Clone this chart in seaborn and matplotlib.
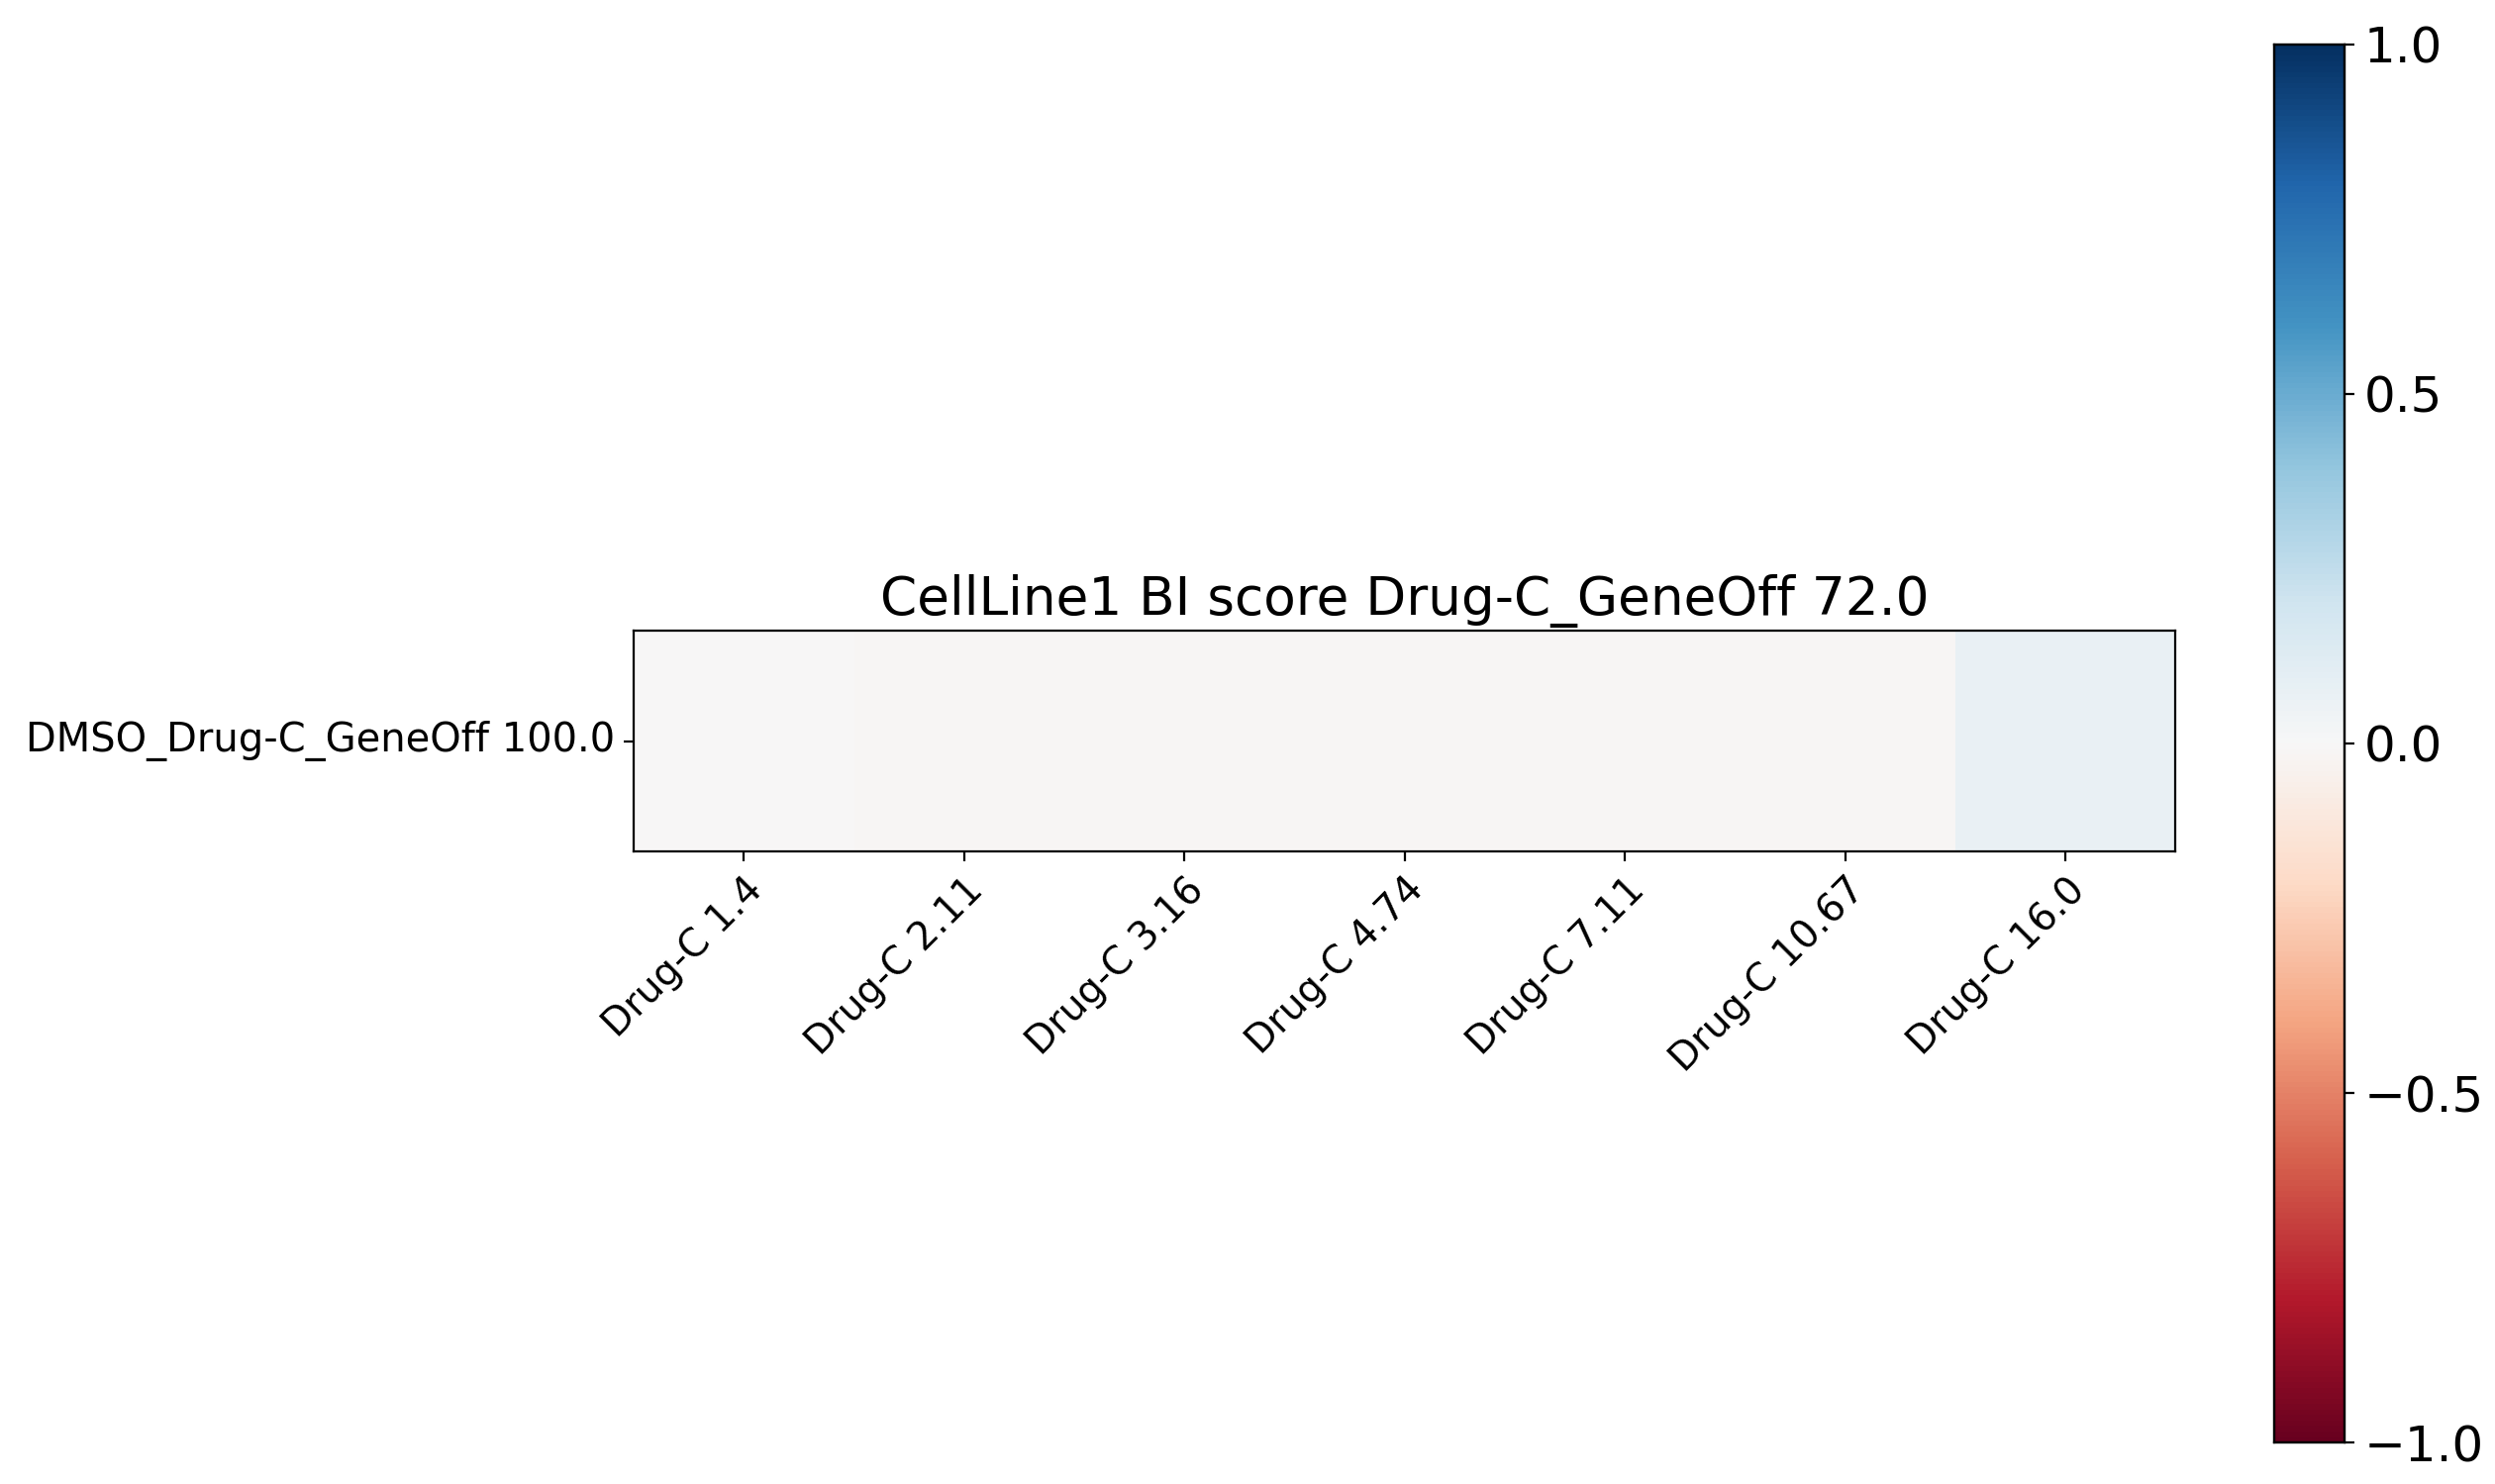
import numpy as np
import pandas as pd
import matplotlib
matplotlib.use("Agg")
import matplotlib.pyplot as plt
import seaborn as sns

col_labels = ["Drug-C 1.4", "Drug-C 2.11", "Drug-C 3.16", "Drug-C 4.74",
              "Drug-C 7.11", "Drug-C 10.67", "Drug-C 16.0"]
row_labels = ["DMSO_Drug-C_GeneOff 100.0"]
values = [[-0.005, -0.015, -0.015, -0.015, -0.015, -0.008, 0.075]]
title = "CellLine1 BI score Drug-C_GeneOff 72.0"

df = pd.DataFrame(values, index=row_labels, columns=col_labels)

plt.rcParams['font.family'] = ['DejaVu Sans']
fig = plt.figure(figsize=(12.6, 7.495), dpi=200)
ax = fig.add_axes([0.254, 0.4263, 0.618, 0.1487])
cax = fig.add_axes([0.9115, 0.028, 0.0282, 0.942])

sns.heatmap(df, ax=ax, cbar_ax=cax, cmap="RdBu", vmin=-1, vmax=1,
            square=True, cbar=True)

for s in ax.spines.values():
    s.set_visible(True)
    s.set_linewidth(0.8)
    s.set_color("black")
ax.tick_params(axis='both', length=3.5, width=0.8)
ax.set_xticklabels(col_labels, rotation=45, ha='right', rotation_mode='anchor', fontsize=14)
ax.set_yticklabels(row_labels, rotation=0, fontsize=14.4, va='center')
ax.set_title(title, fontsize=19.2)
ax.set_xlabel("")
ax.set_ylabel("")

cax.tick_params(labelsize=18, length=3.5, width=0.8)
cax.set_yticks([-1, -0.5, 0, 0.5, 1])
cax.set_yticklabels(["\u22121.0", "\u22120.5", "0.0", "0.5", "1.0"])
for s in cax.spines.values():
    s.set_visible(True)
    s.set_linewidth(0.8)

fig.savefig("out.png", dpi=200)
